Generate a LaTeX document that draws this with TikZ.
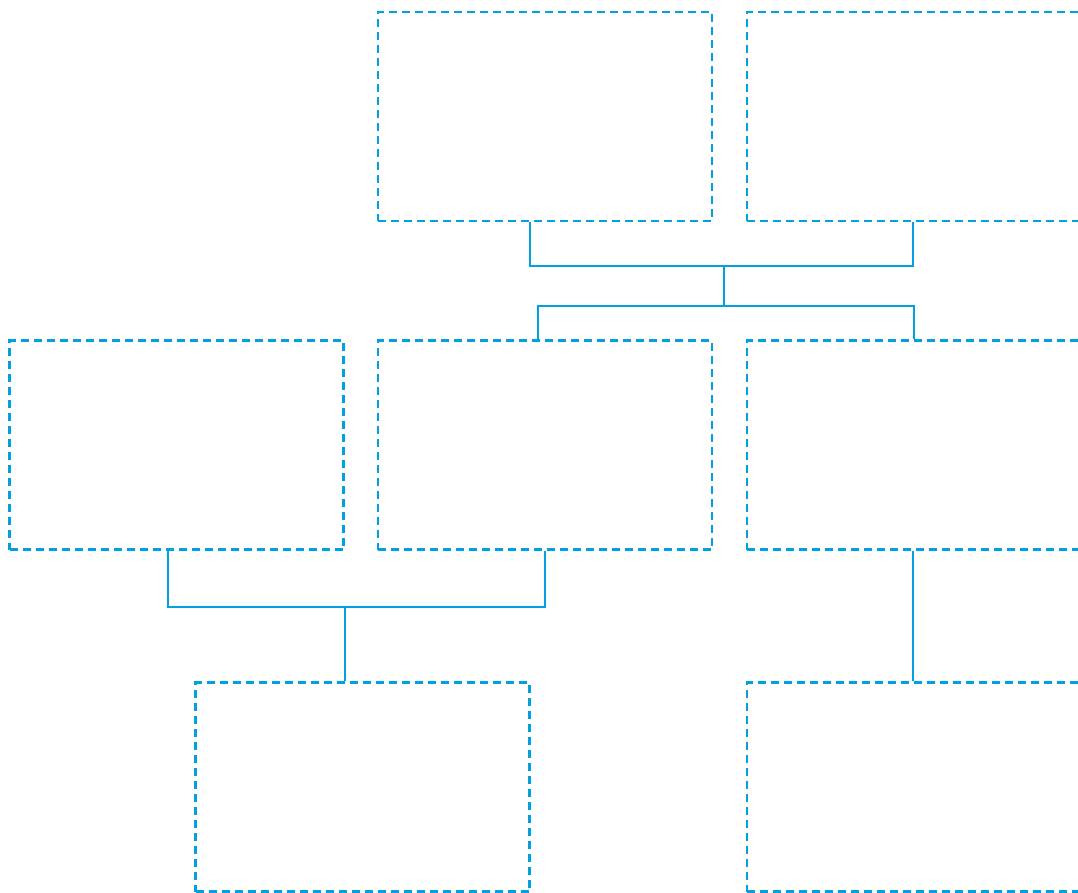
\documentclass[tikz,border=0pt]{standalone}
\definecolor{lineblue}{HTML}{00A0E3}
\tikzset{
  dbox/.style={draw=lineblue, line width=2.2pt, dash pattern=on 8pt off 5pt, minimum width=334pt, minimum height=209pt, inner sep=0pt, rectangle},
  link/.style={draw=lineblue, line width=2.2pt}
}
\begin{document}
\begin{tikzpicture}[x=1pt,y=-1pt]
\useasboundingbox (0,0) rectangle (1078,893);
\clip (0,0) rectangle (1078,893);
\node[dbox] (A) at (545,116.5) {};
\node[dbox] (B) at (914,116.5) {};
\node[dbox] (C) at (176.5,445) {};
\node[dbox] (D) at (545,445) {};
\node[dbox] (E) at (914,445) {};
\node[dbox] (F) at (362.5,787) {};
\node[dbox] (G) at (914,787) {};
\coordinate (j1) at (724,266);
\coordinate (j2) at (724,306);
\coordinate (j3) at (345,607);
\draw[link] ([xshift=-15pt]A.south) |- (j1) -| ([xshift=-1pt]B.south);
\draw[link] (j1) -- (j2);
\draw[link] ([xshift=-7pt]D.north) |- (j2) -| (E.north);
\draw[link] ([xshift=-8.5pt]C.south) |- (j3) -| (D.south);
\draw[link] (j3) -- (j3 |- F.north);
\draw[link] ([xshift=-1pt]E.south) -- ([xshift=-1pt]G.north);
\end{tikzpicture}
\end{document}
